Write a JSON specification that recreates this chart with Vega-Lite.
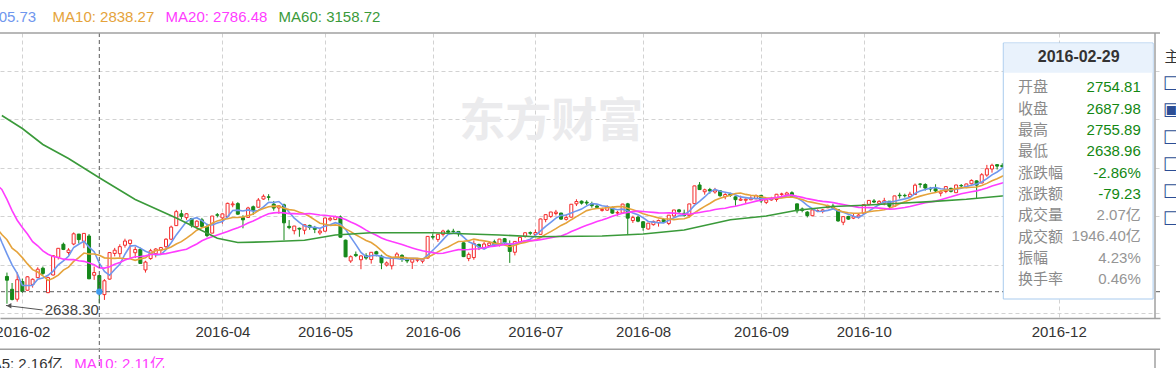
{
"$schema": "https://vega.github.io/schema/vega-lite/v6.json",
"width": 1160, "height": 285,
"autosize": {"type": "none"},
"padding": {"left": 0, "top": 33, "right": 16, "bottom": 50},
"background": "#ffffff",
"config": {"font": "Liberation Sans, Arial, Noto Sans CJK SC, sans-serif", "view": {"stroke": null}},
"datasets": {
"k": [
{"d":"2015-12-29","i":-23,"o":3528,"h":3565,"l":3515,"c":3563.74},
{"d":"2015-12-30","i":-22,"o":3566,"h":3573,"l":3538,"c":3572.88},
{"d":"2015-12-31","i":-21,"o":3570,"h":3581,"l":3538,"c":3539.18},
{"d":"2016-01-04","i":-20,"o":3536,"h":3538,"l":3295,"c":3296.26},
{"d":"2016-01-05","i":-19,"o":3196,"h":3328,"l":3189,"c":3287.71},
{"d":"2016-01-06","i":-18,"o":3291,"h":3362,"l":3288,"c":3361.84},
{"d":"2016-01-07","i":-17,"o":3309,"h":3309,"l":3115,"c":3125.00},
{"d":"2016-01-08","i":-16,"o":3194,"h":3235,"l":3056,"c":3186.41},
{"d":"2016-01-11","i":-15,"o":3131,"h":3166,"l":3016,"c":3016.70},
{"d":"2016-01-12","i":-14,"o":3023,"h":3042,"l":2979,"c":3022.86},
{"d":"2016-01-13","i":-13,"o":3041,"h":3065,"l":2949,"c":2949.60},
{"d":"2016-01-14","i":-12,"o":2879,"h":3011,"l":2867,"c":3007.65},
{"d":"2016-01-15","i":-11,"o":2988,"h":3006,"l":2889,"c":2900.97},
{"d":"2016-01-18","i":-10,"o":2843,"h":2931,"l":2840,"c":2913.84},
{"d":"2016-01-19","i":-9,"o":2914,"h":3010,"l":2903,"c":3007.74},
{"d":"2016-01-20","i":-8,"o":2991,"h":3019,"l":2951,"c":2976.69},
{"d":"2016-01-21","i":-7,"o":2934,"h":2978,"l":2880,"c":2880.48},
{"d":"2016-01-22","i":-6,"o":2910,"h":2916,"l":2845,"c":2916.56},
{"d":"2016-01-25","i":-5,"o":2924,"h":2945,"l":2916,"c":2938.51},
{"d":"2016-01-26","i":-4,"o":2940,"h":2950,"l":2736,"c":2749.79},
{"d":"2016-01-27","i":-3,"o":2751,"h":2767,"l":2638.30,"c":2735.56},
{"d":"2016-01-28","i":-2,"o":2698,"h":2724,"l":2652,"c":2655.66},
{"d":"2016-01-29","i":-1,"o":2657,"h":2768,"l":2647,"c":2737.60},
{"d":"2016-02-01","i":0,"o":2730,"h":2742,"l":2683,"c":2688.85},
{"d":"2016-02-02","i":1,"o":2694,"h":2752,"l":2692,"c":2749.57},
{"d":"2016-02-03","i":2,"o":2718,"h":2743,"l":2705,"c":2739.25},
{"d":"2016-02-04","i":3,"o":2746,"h":2789,"l":2746,"c":2781.02},
{"d":"2016-02-05","i":4,"o":2785,"h":2792,"l":2757,"c":2763.49},
{"d":"2016-02-15","i":5,"o":2684,"h":2750,"l":2682,"c":2746.20},
{"d":"2016-02-16","i":6,"o":2757,"h":2838,"l":2755,"c":2836.57},
{"d":"2016-02-17","i":7,"o":2830,"h":2868,"l":2821,"c":2867.34},
{"d":"2016-02-18","i":8,"o":2884,"h":2891,"l":2860,"c":2862.89},
{"d":"2016-02-19","i":9,"o":2850,"h":2868,"l":2841,"c":2860.02},
{"d":"2016-02-22","i":10,"o":2885,"h":2933,"l":2880,"c":2927.18},
{"d":"2016-02-23","i":11,"o":2926,"h":2927,"l":2887,"c":2903.33},
{"d":"2016-02-24","i":12,"o":2896,"h":2929,"l":2868,"c":2928.90},
{"d":"2016-02-25","i":13,"o":2918,"h":2926,"l":2740,"c":2741.25},
{"d":"2016-02-26","i":14,"o":2756,"h":2792,"l":2737,"c":2767.21},
{"d":"2016-02-29","i":15,"o":2754.81,"h":2755.89,"l":2638.96,"c":2687.98},
{"d":"2016-03-01","i":16,"o":2676,"h":2740,"l":2654,"c":2733.17},
{"d":"2016-03-02","i":17,"o":2740,"h":2850,"l":2738,"c":2849.68},
{"d":"2016-03-03","i":18,"o":2846,"h":2869,"l":2834,"c":2859.50},
{"d":"2016-03-04","i":19,"o":2845,"h":2884,"l":2830,"c":2874.15},
{"d":"2016-03-07","i":20,"o":2880,"h":2907,"l":2870,"c":2897.34},
{"d":"2016-03-08","i":21,"o":2887,"h":2902,"l":2828,"c":2901.39},
{"d":"2016-03-09","i":22,"o":2849,"h":2874,"l":2827,"c":2862.56},
{"d":"2016-03-10","i":23,"o":2863,"h":2870,"l":2804,"c":2804.73},
{"d":"2016-03-11","i":24,"o":2778,"h":2816,"l":2767,"c":2810.31},
{"d":"2016-03-14","i":25,"o":2825,"h":2865,"l":2820,"c":2857.15},
{"d":"2016-03-15","i":26,"o":2845,"h":2868,"l":2830,"c":2864.37},
{"d":"2016-03-16","i":27,"o":2860,"h":2873,"l":2843,"c":2870.43},
{"d":"2016-03-17","i":28,"o":2874,"h":2909,"l":2865,"c":2904.83},
{"d":"2016-03-18","i":29,"o":2905,"h":2961,"l":2901,"c":2955.15},
{"d":"2016-03-21","i":30,"o":2961,"h":3026,"l":2961,"c":3018.80},
{"d":"2016-03-22","i":31,"o":3010,"h":3026,"l":2987,"c":2999.36},
{"d":"2016-03-23","i":32,"o":2994,"h":3013,"l":2985,"c":3009.96},
{"d":"2016-03-24","i":33,"o":2990,"h":2993,"l":2953,"c":2960.97},
{"d":"2016-03-25","i":34,"o":2957,"h":2983,"l":2951,"c":2979.43},
{"d":"2016-03-28","i":35,"o":2985,"h":2993,"l":2955,"c":2957.82},
{"d":"2016-03-29","i":36,"o":2957,"h":2969,"l":2913,"c":2919.83},
{"d":"2016-03-30","i":37,"o":2930,"h":3001,"l":2930,"c":3000.65},
{"d":"2016-03-31","i":38,"o":3006,"h":3013,"l":2995,"c":3003.92},
{"d":"2016-04-01","i":39,"o":2993,"h":3012,"l":2969,"c":3009.53},
{"d":"2016-04-05","i":40,"o":2999,"h":3056,"l":2994,"c":3053.07},
{"d":"2016-04-06","i":41,"o":3047,"h":3061,"l":3037,"c":3050.59},
{"d":"2016-04-07","i":42,"o":3052,"h":3058,"l":3006,"c":3008.42},
{"d":"2016-04-08","i":43,"o":2994,"h":3004,"l":2950,"c":2984.96},
{"d":"2016-04-11","i":44,"o":2995,"h":3039,"l":2993,"c":3033.96},
{"d":"2016-04-12","i":45,"o":3039,"h":3044,"l":3005,"c":3023.65},
{"d":"2016-04-13","i":46,"o":3037,"h":3075,"l":3037,"c":3066.64},
{"d":"2016-04-14","i":47,"o":3071,"h":3090,"l":3068,"c":3082.36},
{"d":"2016-04-15","i":48,"o":3080,"h":3091,"l":3065,"c":3078.12},
{"d":"2016-04-18","i":49,"o":3050,"h":3063,"l":3023,"c":3033.66},
{"d":"2016-04-19","i":50,"o":3034,"h":3045,"l":3010,"c":3042.82},
{"d":"2016-04-20","i":51,"o":3047,"h":3052,"l":2901,"c":2972.58},
{"d":"2016-04-21","i":52,"o":2958,"h":2984,"l":2946,"c":2952.89},
{"d":"2016-04-22","i":53,"o":2940,"h":2960,"l":2925,"c":2959.24},
{"d":"2016-04-25","i":54,"o":2950,"h":2953,"l":2915,"c":2946.67},
{"d":"2016-04-26","i":55,"o":2942,"h":2965,"l":2925,"c":2964.70},
{"d":"2016-04-27","i":56,"o":2962,"h":2965,"l":2944,"c":2953.67},
{"d":"2016-04-28","i":57,"o":2951,"h":2960,"l":2930,"c":2945.59},
{"d":"2016-04-29","i":58,"o":2931,"h":2948,"l":2923,"c":2938.32},
{"d":"2016-05-03","i":59,"o":2938,"h":2993,"l":2936,"c":2992.64},
{"d":"2016-05-04","i":60,"o":2985,"h":2997,"l":2979,"c":2991.27},
{"d":"2016-05-05","i":61,"o":2986,"h":3002,"l":2984,"c":2997.84},
{"d":"2016-05-06","i":62,"o":2997,"h":3003,"l":2912,"c":2913.25},
{"d":"2016-05-09","i":63,"o":2901,"h":2903,"l":2831,"c":2832.11},
{"d":"2016-05-10","i":64,"o":2815,"h":2838,"l":2807,"c":2832.59},
{"d":"2016-05-11","i":65,"o":2842,"h":2854,"l":2831,"c":2837.04},
{"d":"2016-05-12","i":66,"o":2820,"h":2838,"l":2781,"c":2835.86},
{"d":"2016-05-13","i":67,"o":2837,"h":2847,"l":2820,"c":2827.11},
{"d":"2016-05-16","i":68,"o":2821,"h":2851,"l":2804,"c":2850.86},
{"d":"2016-05-17","i":69,"o":2853,"h":2857,"l":2834,"c":2843.68},
{"d":"2016-05-18","i":70,"o":2835,"h":2841,"l":2781,"c":2807.51},
{"d":"2016-05-19","i":71,"o":2798,"h":2813,"l":2792,"c":2806.91},
{"d":"2016-05-20","i":72,"o":2795,"h":2828,"l":2780,"c":2825.48},
{"d":"2016-05-23","i":73,"o":2830,"h":2851,"l":2825,"c":2843.65},
{"d":"2016-05-24","i":74,"o":2838,"h":2843,"l":2811,"c":2821.67},
{"d":"2016-05-25","i":75,"o":2824,"h":2828,"l":2806,"c":2815.09},
{"d":"2016-05-26","i":76,"o":2810,"h":2827,"l":2782,"c":2822.44},
{"d":"2016-05-27","i":77,"o":2818,"h":2826,"l":2810,"c":2821.05},
{"d":"2016-05-30","i":78,"o":2814,"h":2826,"l":2805,"c":2822.45},
{"d":"2016-05-31","i":79,"o":2827,"h":2917,"l":2825,"c":2916.62},
{"d":"2016-06-01","i":80,"o":2916,"h":2929,"l":2904,"c":2913.51},
{"d":"2016-06-02","i":81,"o":2904,"h":2926,"l":2894,"c":2925.23},
{"d":"2016-06-03","i":82,"o":2925,"h":2944,"l":2916,"c":2938.68},
{"d":"2016-06-06","i":83,"o":2939,"h":2945,"l":2926,"c":2934.10},
{"d":"2016-06-07","i":84,"o":2938,"h":2948,"l":2931,"c":2936.04},
{"d":"2016-06-08","i":85,"o":2937,"h":2939,"l":2916,"c":2927.16},
{"d":"2016-06-13","i":86,"o":2890,"h":2892,"l":2831,"c":2833.07},
{"d":"2016-06-14","i":87,"o":2825,"h":2850,"l":2814,"c":2842.19},
{"d":"2016-06-15","i":88,"o":2829,"h":2900,"l":2820,"c":2887.21},
{"d":"2016-06-16","i":89,"o":2883,"h":2887,"l":2860,"c":2872.82},
{"d":"2016-06-17","i":90,"o":2868,"h":2893,"l":2866,"c":2885.11},
{"d":"2016-06-20","i":91,"o":2879,"h":2895,"l":2876,"c":2888.81},
{"d":"2016-06-21","i":92,"o":2894,"h":2903,"l":2875,"c":2878.56},
{"d":"2016-06-22","i":93,"o":2880,"h":2906,"l":2875,"c":2905.55},
{"d":"2016-06-23","i":94,"o":2907,"h":2910,"l":2880,"c":2891.96},
{"d":"2016-06-24","i":95,"o":2880,"h":2900,"l":2807,"c":2854.29},
{"d":"2016-06-27","i":96,"o":2851,"h":2896,"l":2838,"c":2895.70},
{"d":"2016-06-28","i":97,"o":2893,"h":2914,"l":2887,"c":2912.56},
{"d":"2016-06-29","i":98,"o":2917,"h":2933,"l":2911,"c":2931.59},
{"d":"2016-06-30","i":99,"o":2932,"h":2937,"l":2922,"c":2929.61},
{"d":"2016-07-01","i":100,"o":2925,"h":2945,"l":2918,"c":2932.48},
{"d":"2016-07-04","i":101,"o":2925,"h":2990,"l":2925,"c":2988.60},
{"d":"2016-07-05","i":102,"o":2986,"h":3007,"l":2975,"c":3006.39},
{"d":"2016-07-06","i":103,"o":2999,"h":3018,"l":2993,"c":3017.29},
{"d":"2016-07-07","i":104,"o":3011,"h":3026,"l":3003,"c":3016.85},
{"d":"2016-07-08","i":105,"o":3013,"h":3014,"l":2985,"c":2988.09},
{"d":"2016-07-11","i":106,"o":2987,"h":3008,"l":2982,"c":2994.92},
{"d":"2016-07-12","i":107,"o":2996,"h":3050,"l":2995,"c":3049.38},
{"d":"2016-07-13","i":108,"o":3051,"h":3070,"l":3042,"c":3060.69},
{"d":"2016-07-14","i":109,"o":3062,"h":3065,"l":3048,"c":3054.02},
{"d":"2016-07-15","i":110,"o":3058,"h":3066,"l":3046,"c":3054.30},
{"d":"2016-07-18","i":111,"o":3052,"h":3060,"l":3035,"c":3043.56},
{"d":"2016-07-19","i":112,"o":3042,"h":3048,"l":3030,"c":3036.60},
{"d":"2016-07-20","i":113,"o":3024,"h":3035,"l":3019,"c":3027.90},
{"d":"2016-07-21","i":114,"o":3025,"h":3045,"l":3022,"c":3039.01},
{"d":"2016-07-22","i":115,"o":3036,"h":3040,"l":3010,"c":3012.82},
{"d":"2016-07-25","i":116,"o":3013,"h":3022,"l":3002,"c":3015.83},
{"d":"2016-07-26","i":117,"o":3013,"h":3051,"l":3012,"c":3050.17},
{"d":"2016-07-27","i":118,"o":3051,"h":3055,"l":2922,"c":2992.00},
{"d":"2016-07-28","i":119,"o":2982,"h":3002,"l":2972,"c":2994.30},
{"d":"2016-07-29","i":120,"o":2996,"h":3003,"l":2975,"c":2979.34},
{"d":"2016-08-01","i":121,"o":2977,"h":2980,"l":2940,"c":2953.39},
{"d":"2016-08-02","i":122,"o":2947,"h":2972,"l":2945,"c":2971.28},
{"d":"2016-08-03","i":123,"o":2965,"h":2982,"l":2961,"c":2978.46},
{"d":"2016-08-04","i":124,"o":2973,"h":2986,"l":2957,"c":2982.43},
{"d":"2016-08-05","i":125,"o":2986,"h":2992,"l":2972,"c":2976.70},
{"d":"2016-08-08","i":126,"o":2970,"h":3005,"l":2963,"c":3004.28},
{"d":"2016-08-09","i":127,"o":3001,"h":3026,"l":2999,"c":3025.68},
{"d":"2016-08-10","i":128,"o":3026,"h":3030,"l":3013,"c":3018.75},
{"d":"2016-08-11","i":129,"o":3012,"h":3027,"l":2998,"c":3002.64},
{"d":"2016-08-12","i":130,"o":3002,"h":3051,"l":2995,"c":3050.67},
{"d":"2016-08-15","i":131,"o":3052,"h":3126,"l":3052,"c":3125.20},
{"d":"2016-08-16","i":132,"o":3129,"h":3141,"l":3110,"c":3110.04},
{"d":"2016-08-17","i":133,"o":3101,"h":3114,"l":3089,"c":3109.04},
{"d":"2016-08-18","i":134,"o":3110,"h":3117,"l":3093,"c":3104.11},
{"d":"2016-08-19","i":135,"o":3100,"h":3117,"l":3093,"c":3108.10},
{"d":"2016-08-22","i":136,"o":3105,"h":3106,"l":3080,"c":3084.81},
{"d":"2016-08-23","i":137,"o":3081,"h":3095,"l":3070,"c":3089.71},
{"d":"2016-08-24","i":138,"o":3092,"h":3097,"l":3080,"c":3085.87},
{"d":"2016-08-25","i":139,"o":3080,"h":3082,"l":3043,"c":3068.33},
{"d":"2016-08-26","i":140,"o":3066,"h":3085,"l":3063,"c":3070.31},
{"d":"2016-08-29","i":141,"o":3066,"h":3074,"l":3054,"c":3070.03},
{"d":"2016-08-30","i":142,"o":3068,"h":3083,"l":3066,"c":3074.68},
{"d":"2016-08-31","i":143,"o":3072,"h":3090,"l":3070,"c":3085.49},
{"d":"2016-09-01","i":144,"o":3086,"h":3088,"l":3055,"c":3063.31},
{"d":"2016-09-02","i":145,"o":3057,"h":3073,"l":3050,"c":3067.35},
{"d":"2016-09-05","i":146,"o":3067,"h":3080,"l":3064,"c":3072.10},
{"d":"2016-09-06","i":147,"o":3069,"h":3092,"l":3060,"c":3090.71},
{"d":"2016-09-07","i":148,"o":3090,"h":3097,"l":3084,"c":3091.93},
{"d":"2016-09-08","i":149,"o":3088,"h":3101,"l":3085,"c":3095.95},
{"d":"2016-09-09","i":150,"o":3097,"h":3103,"l":3076,"c":3078.85},
{"d":"2016-09-12","i":151,"o":3051,"h":3052,"l":3012,"c":3021.98},
{"d":"2016-09-13","i":152,"o":3030,"h":3036,"l":3016,"c":3023.51},
{"d":"2016-09-14","i":153,"o":3017,"h":3021,"l":2995,"c":3002.85},
{"d":"2016-09-19","i":154,"o":3002,"h":3030,"l":3000,"c":3026.05},
{"d":"2016-09-20","i":155,"o":3022,"h":3028,"l":3017,"c":3023.00},
{"d":"2016-09-21","i":156,"o":3020,"h":3030,"l":3012,"c":3025.87},
{"d":"2016-09-22","i":157,"o":3035,"h":3048,"l":3033,"c":3042.31},
{"d":"2016-09-23","i":158,"o":3042,"h":3052,"l":3031,"c":3033.90},
{"d":"2016-09-26","i":159,"o":3027,"h":3028,"l":2977,"c":2980.43},
{"d":"2016-09-27","i":160,"o":2975,"h":2999,"l":2963,"c":2998.17},
{"d":"2016-09-28","i":161,"o":2999,"h":3002,"l":2985,"c":2987.86},
{"d":"2016-09-29","i":162,"o":2992,"h":3011,"l":2988,"c":2998.49},
{"d":"2016-09-30","i":163,"o":2997,"h":3009,"l":2990,"c":3004.70},
{"d":"2016-10-10","i":164,"o":3012,"h":3048,"l":3008,"c":3048.14},
{"d":"2016-10-11","i":165,"o":3049,"h":3066,"l":3044,"c":3065.25},
{"d":"2016-10-12","i":166,"o":3063,"h":3071,"l":3054,"c":3058.50},
{"d":"2016-10-13","i":167,"o":3053,"h":3066,"l":3050,"c":3061.35},
{"d":"2016-10-14","i":168,"o":3054,"h":3076,"l":3045,"c":3063.81},
{"d":"2016-10-17","i":169,"o":3062,"h":3062,"l":3033,"c":3041.17},
{"d":"2016-10-18","i":170,"o":3041,"h":3084,"l":3040,"c":3083.88},
{"d":"2016-10-19","i":171,"o":3087,"h":3097,"l":3073,"c":3084.72},
{"d":"2016-10-20","i":172,"o":3086,"h":3093,"l":3077,"c":3084.46},
{"d":"2016-10-21","i":173,"o":3081,"h":3101,"l":3077,"c":3090.94},
{"d":"2016-10-24","i":174,"o":3090,"h":3135,"l":3090,"c":3128.25},
{"d":"2016-10-25","i":175,"o":3133,"h":3136,"l":3118,"c":3131.94},
{"d":"2016-10-26","i":176,"o":3131,"h":3136,"l":3106,"c":3116.31},
{"d":"2016-10-27","i":177,"o":3115,"h":3121,"l":3101,"c":3112.35},
{"d":"2016-10-28","i":178,"o":3114,"h":3132,"l":3097,"c":3104.27},
{"d":"2016-10-31","i":179,"o":3095,"h":3107,"l":3082,"c":3100.49},
{"d":"2016-11-01","i":180,"o":3102,"h":3123,"l":3095,"c":3122.44},
{"d":"2016-11-02","i":181,"o":3115,"h":3118,"l":3098,"c":3102.73},
{"d":"2016-11-03","i":182,"o":3097,"h":3130,"l":3096,"c":3128.94},
{"d":"2016-11-04","i":183,"o":3127,"h":3133,"l":3117,"c":3125.32},
{"d":"2016-11-07","i":184,"o":3119,"h":3134,"l":3116,"c":3133.33},
{"d":"2016-11-08","i":185,"o":3134,"h":3152,"l":3131,"c":3147.89},
{"d":"2016-11-09","i":186,"o":3146,"h":3148,"l":3073,"c":3128.37},
{"d":"2016-11-10","i":187,"o":3137,"h":3178,"l":3137,"c":3171.28},
{"d":"2016-11-11","i":188,"o":3170,"h":3212,"l":3163,"c":3196.04},
{"d":"2016-11-14","i":189,"o":3195,"h":3217,"l":3180,"c":3210.37},
{"d":"2016-11-15","i":190,"o":3213,"h":3214,"l":3193,"c":3206.99},
{"d":"2016-11-16","i":191,"o":3210,"h":3219,"l":3198,"c":3205.06},
{"d":"2016-11-17","i":192,"o":3197,"h":3213,"l":3191,"c":3208.45},
{"d":"2016-11-18","i":193,"o":3209,"h":3211,"l":3186,"c":3192.86}
],
"ma60": [
{"i":-4,"v":3416.1},{"i":0,"v":3362.4},{"i":4,"v":3296.3},{"i":9,"v":3238.4},{"i":15,"v":3158.72},
{"i":22,"v":3069.0},{"i":30,"v":2992.5},{"i":33,"v":2961.5},{"i":38,"v":2908.7},{"i":42,"v":2891.3},
{"i":48,"v":2894.2},{"i":55,"v":2900.4},{"i":61,"v":2922.3},{"i":68,"v":2931.8},{"i":80,"v":2931.8},
{"i":93,"v":2922.3},{"i":100,"v":2915.3},{"i":113,"v":2918.2},{"i":121,"v":2926.4},{"i":129,"v":2943.0},
{"i":138,"v":2985.5},{"i":145,"v":3000.8},{"i":151,"v":3024.8},{"i":158,"v":3040.0},{"i":164,"v":3045.4},
{"i":171,"v":3053.7},{"i":177,"v":3060.3},{"i":184,"v":3070.2},{"i":192,"v":3085.5}
]
},
"layer": [
{"data":{"values":[{}]},
 "mark":{"type":"text","align":"center","baseline":"middle","fontSize":46,"fontWeight":"bold","color":"#ebebed","font":"Noto Sans CJK SC"},
 "encoding":{"x":{"datum":103.09},"y":{"datum":3389.2},"text":{"value":"东方财富"}}},
{"data":{"name":"k"},
 "transform":[{"filter":"datum.i >= -3"}],
 "mark":{"type":"rule","strokeWidth":1,"clip":true},
 "encoding":{
  "x":{"field":"i","type":"quantitative","scale":{"domain":[-3.3816,220.77],"nice":false,"zero":false},
   "axis":{"values":[0,39,59,80,100,121,144,164,202],
    "labelExpr":"['2016-02','2016-04','2016-05','2016-06','2016-07','2016-08','2016-09','2016-10','2016-12'][indexof([0,39,59,80,100,121,144,164,202], datum.value)]",
    "title":null,"grid":true,"gridDash":[4,3],"gridColor":"#d2d2d2","ticks":false,"domainColor":"#a0a0a0","domainWidth":1.5,
    "labelFontSize":15,"labelColor":"#333333","labelPadding":6,"labelOverlap":false,"labelFlush":false}},
  "y":{"field":"l","type":"quantitative","scale":{"domain":[2579.34,3757],"nice":false,"zero":false},
   "axis":{"values":[2600,2800,3000,3200,3400,3600],"title":null,"labels":false,"ticks":false,"domain":false,"grid":true,"gridDash":[4,3],"gridColor":"#d2d2d2"}},
  "y2":{"field":"h"},
  "color":{"condition":{"test":"datum.c >= datum.o","value":"#f42a2a"},"value":"#16881a"}
 }},
{"data":{"name":"k"},
 "transform":[{"filter":"datum.i >= -3"}],
 "mark":{"type":"bar","size":3,"strokeWidth":1,"clip":true},
 "encoding":{
  "x":{"field":"i","type":"quantitative"},
  "y":{"field":"o","type":"quantitative"},
  "y2":{"field":"c"},
  "fill":{"condition":{"test":"datum.c >= datum.o","value":"#ffffff"},"value":"#16881a"},
  "stroke":{"condition":{"test":"datum.c >= datum.o","value":"#f42a2a"},"value":"#16881a"}
 }},
{"data":{"name":"k"},
 "transform":[
  {"window":[{"op":"mean","field":"c","as":"MA5"}],"frame":[-4,0],"sort":[{"field":"i"}]},
  {"window":[{"op":"mean","field":"c","as":"MA10"}],"frame":[-9,0],"sort":[{"field":"i"}]},
  {"window":[{"op":"mean","field":"c","as":"MA20"}],"frame":[-19,0],"sort":[{"field":"i"}]},
  {"filter":"datum.i >= -5"},
  {"fold":["MA5","MA10","MA20"],"as":["s","v"]}
 ],
 "mark":{"type":"line","strokeWidth":1.6,"clip":true},
 "encoding":{
  "x":{"field":"i","type":"quantitative"},
  "y":{"field":"v","type":"quantitative"},
  "color":{"field":"s","type":"nominal","scale":{"domain":["MA5","MA10","MA20"],"range":["#6f97ee","#e5a33b","#ff3cff"]},"legend":null}
 }},
{"data":{"name":"ma60"},
 "mark":{"type":"line","strokeWidth":1.6,"color":"#3a9a3a","clip":true},
 "encoding":{"x":{"field":"i","type":"quantitative"},"y":{"field":"v","type":"quantitative"}}},
{"data":{"values":[{}]},
 "mark":{"type":"rule","color":"#5a5a5a","strokeWidth":1,"strokeDash":[4,3]},
 "encoding":{"y":{"datum":2687.98}}},
{"data":{"values":[{}]},
 "mark":{"type":"rule","color":"#5a5a5a","strokeWidth":1,"strokeDash":[4,3]},
 "encoding":{"x":{"datum":15},"y":{"datum":3757},"y2":{"datum":2360}}},
{"data":{"values":[{}]},
 "mark":{"type":"point","filled":true,"size":40,"color":"#3d9bef","opacity":1},
 "encoding":{"x":{"datum":15},"y":{"datum":2687.98}}},
{"data":{"values":[{}]},
 "mark":{"type":"rule","color":"#555555","strokeWidth":1},
 "encoding":{"x":{"datum":-3.19},"y":{"datum":2631},"x2":{"datum":3.96},"y2":{"datum":2612.4}}},
{"data":{"values":[{}]},
 "mark":{"type":"point","shape":"triangle-left","filled":true,"size":30,"color":"#555555","opacity":1},
 "encoding":{"x":{"datum":-2.6},"y":{"datum":2630}}},
{"data":{"values":[{}]},
 "mark":{"type":"text","align":"left","baseline":"middle","fontSize":15,"color":"#444444"},
 "encoding":{"x":{"datum":4.35},"y":{"datum":2612.4},"text":{"value":"2638.30"}}},
{"data":{"values":[{}]},
 "mark":{"type":"rule","color":"#a0a0a0","strokeWidth":1.5},
 "encoding":{"y":{"datum":3757}}},
{"data":{"values":[{}]},
 "mark":{"type":"rule","color":"#a0a0a0","strokeWidth":1.5},
 "encoding":{"x":{"datum":220.77}}},
{"data":{"values":[{}]},
 "mark":{"type":"rule","color":"#a0a0a0","strokeWidth":1.5},
 "encoding":{"y":{"datum":2450}}},
{"data":{"values":[{}]},
 "mark":{"type":"rule","color":"#a0a0a0","strokeWidth":1.5},
 "encoding":{"x":{"datum":220.77},"y":{"datum":2450},"y2":{"datum":2300}}},
{"data":{"values":[{}]},
 "mark":{"type":"rect","fill":"#ffffff","stroke":"#a9cbee","strokeWidth":1},
 "encoding":{"x":{"datum":191.2},"x2":{"datum":220.4},"y":{"datum":3715.7},"y2":{"datum":2657.8}}},
{"data":{"values":[{}]},
 "mark":{"type":"rect","fill":"#e9f2fc"},
 "encoding":{"x":{"datum":191.32},"x2":{"datum":220.28},"y":{"datum":3713.6},"y2":{"datum":3593}}},
{"data":{"values":[{}]},
 "mark":{"type":"text","align":"center","baseline":"middle","fontSize":16,"fontWeight":"bold","color":"#333333"},
 "encoding":{"x":{"datum":205.9},"y":{"datum":3656.6},"text":{"value":"2016-02-29"}}},
{"data":{"values":[{}]},
 "mark":{"type":"text","align":"left","baseline":"middle","fontSize":15,"lineHeight":21.33,"color":"#8a8a8a"},
 "encoding":{"x":{"datum":194.05},"y":{"datum":3532.6},"text":{"value":["开盘","收盘","最高","最低","涨跌幅","涨跌额","成交量","成交额","振幅","换手率"]}}},
{"data":{"values":[{}]},
 "mark":{"type":"text","align":"right","baseline":"middle","fontSize":15,"lineHeight":21.33,"color":"#138813"},
 "encoding":{"x":{"datum":218.0},"y":{"datum":3532.6},"text":{"value":["2754.81","2687.98","2755.89","2638.96","-2.86%","-79.23"]}}},
{"data":{"values":[{}]},
 "mark":{"type":"text","align":"right","baseline":"middle","fontSize":15,"lineHeight":21.33,"color":"#959595"},
 "encoding":{"x":{"datum":218.0},"y":{"datum":3004.9},"text":{"value":["2.07亿","1946.40亿","4.23%","0.46%"]}}},
{"data":{"values":[{}]},
 "mark":{"type":"text","align":"right","baseline":"middle","fontSize":15,"color":"#6f97ee"},
 "encoding":{"x":{"datum":2.7},"y":{"datum":3824.4},"text":{"value":"MA5: 2805.73"}}},
{"data":{"values":[{}]},
 "mark":{"type":"text","align":"left","baseline":"middle","fontSize":15,"color":"#e5a33b"},
 "encoding":{"x":{"datum":5.89},"y":{"datum":3824.4},"text":{"value":"MA10: 2838.27"}}},
{"data":{"values":[{}]},
 "mark":{"type":"text","align":"left","baseline":"middle","fontSize":15,"color":"#ff3cff"},
 "encoding":{"x":{"datum":27.92},"y":{"datum":3824.4},"text":{"value":"MA20: 2786.48"}}},
{"data":{"values":[{}]},
 "mark":{"type":"text","align":"left","baseline":"middle","fontSize":15,"color":"#3a9a3a"},
 "encoding":{"x":{"datum":49.95},"y":{"datum":3824.4},"text":{"value":"MA60: 3158.72"}}},
{"data":{"values":[{}]},
 "mark":{"type":"text","align":"left","baseline":"middle","fontSize":15,"color":"#333333"},
 "encoding":{"x":{"datum":222.6},"y":{"datum":3657.8},"text":{"value":"主"}}},
{"data":{"values":[{}]},
 "mark":{"type":"text","align":"left","baseline":"middle","fontSize":18,"lineHeight":26.94,"color":"#2c4e95","font":"DejaVu Sans"},
 "encoding":{"x":{"datum":222.3},"y":{"datum":3549.1},"text":{"value":["□","▣","□","□","□","□"]}}},
{"data":{"values":[{}]},
 "mark":{"type":"text","align":"right","baseline":"middle","fontSize":15,"color":"#333333"},
 "encoding":{"x":{"datum":7.83},"y":{"datum":2387.2},"text":{"value":"MA5: 2.16亿"}}},
{"data":{"values":[{}]},
 "mark":{"type":"text","align":"left","baseline":"middle","fontSize":15,"color":"#ff3cff"},
 "encoding":{"x":{"datum":10.14},"y":{"datum":2387.2},"text":{"value":"MA10: 2.11亿"}}}
]
}
